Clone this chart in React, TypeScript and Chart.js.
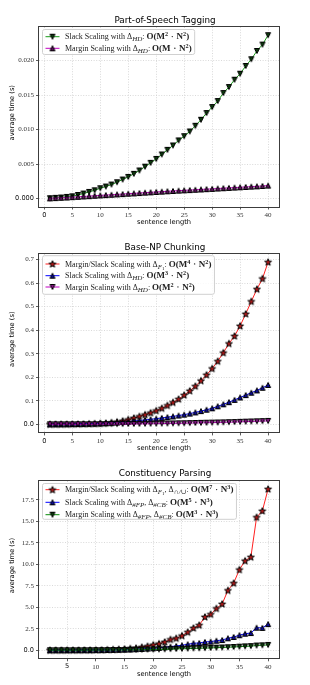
import React, { useEffect, useRef } from 'react';
import { Chart, registerables } from 'chart.js';

Chart.register(...registerables);

// ---------------- data ----------------
const posLength = [1, 2, 3, 4, 5, 6, 7, 8, 9, 10, 11, 12, 13, 14, 15, 16, 17, 18, 19, 20, 21, 22, 23, 24, 25, 26, 27, 28, 29, 30, 31, 32, 33, 34, 35, 36, 37, 38, 39, 40];
const posSlackHD = [0.00005, 0.0001, 0.00015, 0.00024, 0.00033, 0.00052, 0.00073, 0.00096, 0.0012, 0.0015, 0.00174, 0.00203, 0.00237, 0.00276, 0.00314, 0.00358, 0.00407, 0.00462, 0.00518, 0.00575, 0.00639, 0.00706, 0.0077, 0.00843, 0.00905, 0.00973, 0.01055, 0.01142, 0.0124, 0.01327, 0.01414, 0.0153, 0.01617, 0.01723, 0.0181, 0.01922, 0.0202, 0.0214, 0.02232, 0.02369];
const posMarginHD = [0.00003, 0.00007, 0.00011, 0.00015, 0.0002, 0.00025, 0.0003, 0.00035, 0.0004, 0.00046, 0.0005, 0.00055, 0.0006, 0.00065, 0.0007, 0.00075, 0.0008, 0.00085, 0.0009, 0.00095, 0.001, 0.00105, 0.0011, 0.00114, 0.00119, 0.00123, 0.00127, 0.00132, 0.00136, 0.0014, 0.00145, 0.0015, 0.00154, 0.00159, 0.00163, 0.00168, 0.00172, 0.00177, 0.00182, 0.00188];

const chunkLength = [1, 2, 3, 4, 5, 6, 7, 8, 9, 10, 11, 12, 13, 14, 15, 16, 17, 18, 19, 20, 21, 22, 23, 24, 25, 26, 27, 28, 29, 30, 31, 32, 33, 34, 35, 36, 37, 38, 39, 40];
const chunkF1 = [0.0, 0.0001, 0.0002, 0.0003, 0.0005, 0.0008, 0.0012, 0.0018, 0.0026, 0.0037, 0.0052, 0.0072, 0.0105, 0.0145, 0.02, 0.0265, 0.0335, 0.041, 0.049, 0.058, 0.068, 0.08, 0.093, 0.107, 0.124, 0.142, 0.162, 0.185, 0.21, 0.237, 0.268, 0.304, 0.343, 0.375, 0.418, 0.469, 0.522, 0.574, 0.619, 0.689];
const chunkSlackHD = [0.0001, 0.0002, 0.0004, 0.0007, 0.001, 0.0015, 0.002, 0.0026, 0.0033, 0.004, 0.0053, 0.0066, 0.008, 0.0095, 0.011, 0.0134, 0.016, 0.0186, 0.0212, 0.024, 0.027, 0.0302, 0.0336, 0.0372, 0.041, 0.0455, 0.0505, 0.056, 0.0618, 0.068, 0.0765, 0.085, 0.094, 0.1035, 0.114, 0.124, 0.134, 0.144, 0.155, 0.167];
const chunkMarginHD = [0.0, 0.0, 0.0, 0.0001, 0.0001, 0.0002, 0.0002, 0.0003, 0.0004, 0.0005, 0.0006, 0.0008, 0.0009, 0.0011, 0.0013, 0.0015, 0.0018, 0.0021, 0.0024, 0.0027, 0.003, 0.0034, 0.0038, 0.0042, 0.0046, 0.0051, 0.0056, 0.0061, 0.0066, 0.0072, 0.0078, 0.0084, 0.009, 0.0097, 0.0104, 0.0112, 0.012, 0.0128, 0.0136, 0.0145];

const parseLength = [2, 3, 4, 5, 6, 7, 8, 9, 10, 11, 12, 13, 14, 15, 16, 17, 18, 19, 20, 21, 22, 23, 24, 25, 26, 27, 28, 29, 30, 31, 32, 33, 34, 35, 36, 37, 38, 39, 40];
const parseF1 = [0.0, 0.0, 0.0, 0.01, 0.01, 0.01, 0.02, 0.02, 0.03, 0.04, 0.06, 0.08, 0.11, 0.15, 0.2, 0.26, 0.36, 0.47, 0.63, 0.76, 0.96, 1.25, 1.39, 1.69, 2.1, 2.58, 2.92, 3.87, 4.18, 4.86, 5.38, 6.96, 7.8, 9.37, 10.4, 10.83, 15.46, 16.2, 18.74];
const parseSlack = [0.0, 0.0, 0.0, 0.0, 0.01, 0.01, 0.01, 0.01, 0.02, 0.02, 0.03, 0.04, 0.05, 0.07, 0.09, 0.12, 0.15, 0.19, 0.23, 0.27, 0.35, 0.42, 0.5, 0.58, 0.69, 0.81, 0.84, 0.96, 1.0, 1.11, 1.19, 1.39, 1.54, 1.75, 1.92, 2.0, 2.62, 2.6, 3.04];
const parseMargin = [0.001, 0.001, 0.002, 0.003, 0.004, 0.006, 0.008, 0.01, 0.015, 0.02, 0.025, 0.03, 0.035, 0.04, 0.05, 0.06, 0.07, 0.08, 0.09, 0.1, 0.11, 0.13, 0.15, 0.17, 0.19, 0.21, 0.23, 0.25, 0.27, 0.3, 0.32, 0.35, 0.38, 0.42, 0.45, 0.48, 0.55, 0.58, 0.62];

const posXTicks = [0, 5, 10, 15, 20, 25, 30, 35, 40];
const posYTicks = [0, 0.005, 0.01, 0.015, 0.02];
const chunkXTicks = [0, 5, 10, 15, 20, 25, 30, 35, 40];
const chunkYTicks = [0, 0.1, 0.2, 0.3, 0.4, 0.5, 0.6, 0.7];
const parseXTicks = [5, 10, 15, 20, 25, 30, 35, 40];
const parseYTicks = [0, 2.5, 5, 7.5, 10, 12.5, 15, 17.5];

const titles = ['Part-of-Speech Tagging', 'Base-NP Chunking', 'Constituency Parsing'];
const xAxisLabel = 'sentence length';
const yAxisLabel = 'average time (s)';

type Seg = [string, string];
const posLabels: Seg[][] = [
  [['Slack Scaling with Δ', 'r'], ['HD', 'sub'], [': ', 'r'], ['O(M', 'b'], ['2', 'sup'], ['dot', 'dot'], ['N', 'b'], ['2', 'sup'], [')', 'b']],
  [['Margin Scaling with Δ', 'r'], ['HD', 'sub'], [': ', 'r'], ['O(M', 'b'], ['dot', 'dot'], ['N', 'b'], ['2', 'sup'], [')', 'b']],
];
const chunkLabels: Seg[][] = [
  [['Margin/Slack Scaling with Δ', 'r'], ['F', 'sub'], ['1', 'subsub'], [': ', 'r'], ['O(M', 'b'], ['4', 'sup'], ['dot', 'dot'], ['N', 'b'], ['2', 'sup'], [')', 'b']],
  [['Slack Scaling with Δ', 'r'], ['HD', 'sub'], [': ', 'r'], ['O(M', 'b'], ['3', 'sup'], ['dot', 'dot'], ['N', 'b'], ['2', 'sup'], [')', 'b']],
  [['Margin Scaling with Δ', 'r'], ['HD', 'sub'], [': ', 'r'], ['O(M', 'b'], ['2', 'sup'], ['dot', 'dot'], ['N', 'b'], ['2', 'sup'], [')', 'b']],
];
const parseLabels: Seg[][] = [
  [['Margin/Slack Scaling with Δ', 'r'], ['F', 'sub'], ['1', 'subsub'], [', Δ', 'r'], ['∩/∪', 'sub'], [': ', 'r'], ['O(M', 'b'], ['7', 'sup'], ['dot', 'dot'], ['N', 'b'], ['3', 'sup'], [')', 'b']],
  [['Slack Scaling with Δ', 'r'], ['#FP', 'sub'], [', Δ', 'r'], ['#CB', 'sub'], [': ', 'r'], ['O(M', 'b'], ['5', 'sup'], ['dot', 'dot'], ['N', 'b'], ['3', 'sup'], [')', 'b']],
  [['Margin Scaling with Δ', 'r'], ['#FP', 'sub'], [', Δ', 'r'], ['#CB', 'sub'], [': ', 'r'], ['O(M', 'b'], ['3', 'sup'], ['dot', 'dot'], ['N', 'b'], ['3', 'sup'], [')', 'b']],
];

// ---------------- styling ----------------
const SERIF = '"Liberation Serif", "DejaVu Serif", serif';
const SANS = '"DejaVu Sans", sans-serif';
const GREEN = '#1a9a1a';
const MAGENTA = '#c000c0';
const RED = '#ff2020';
const BLUE = '#0000ff';

interface Series { label: Seg[]; xs: number[]; ys: number[]; color: string; marker: string; fill: string; }
interface PanelCfg {
  title: string; series: Series[]; xTicks: number[]; yTicks: number[]; yDigits: number;
  top: number; height: number; areaTop: number; areaBottom: number;
  titleY: number; xLabelY: number; legendTop: number; legendBottom: number; legendRows: number[];
}

function makeMarker(shape: string, fill: string): HTMLCanvasElement {
  const c = document.createElement('canvas');
  c.width = 10; c.height = 10;
  const g = c.getContext('2d')!;
  const cx = 5, cy = 5;
  g.beginPath();
  if (shape === 'up') {
    const s = 2.5;
    g.moveTo(cx, cy - s); g.lineTo(cx + s, cy + s); g.lineTo(cx - s, cy + s);
  } else if (shape === 'down') {
    const s = 2.5;
    g.moveTo(cx, cy + s); g.lineTo(cx + s, cy - s); g.lineTo(cx - s, cy - s);
  } else {
    for (let k = 0; k < 10; k++) {
      const r = k % 2 ? 1.5 : 3.6;
      const a = -Math.PI / 2 + (k * Math.PI) / 5;
      const px = cx + r * Math.cos(a), py = cy + 0.3 + r * Math.sin(a);
      if (k === 0) g.moveTo(px, py); else g.lineTo(px, py);
    }
  }
  g.closePath();
  g.fillStyle = fill; g.fill();
  g.lineWidth = 1; g.strokeStyle = '#000'; g.stroke();
  return c;
}

function segFont(kind: string): string {
  switch (kind) {
    case 'sub': return `italic 7px ${SERIF}`;
    case 'subsub': return `5px ${SERIF}`;
    case 'b': case 'dot': return `bold 9px ${SERIF}`;
    case 'sup': return `bold 6.2px ${SERIF}`;
    default: return `8px ${SERIF}`;
  }
}
function segOffset(kind: string): number {
  switch (kind) {
    case 'sub': return 1.9;
    case 'subsub': return 3.1;
    case 'sup': return -3.1;
    default: return 0;
  }
}
function segWidth(ctx: CanvasRenderingContext2D, t: string, k: string): number {
  ctx.font = segFont(k);
  if (k === 'dot') return 8.5;
  return ctx.measureText(t).width;
}
function richWidth(ctx: CanvasRenderingContext2D, segs: Seg[]): number {
  let w = 0;
  for (const [t, k] of segs) w += segWidth(ctx, t, k);
  return w;
}
function drawRich(ctx: CanvasRenderingContext2D, segs: Seg[], x: number, y: number) {
  let cx = x;
  ctx.textBaseline = 'alphabetic';
  ctx.textAlign = 'left';
  for (const [t, k] of segs) {
    const w = segWidth(ctx, t, k);
    if (k === 'dot') {
      ctx.beginPath();
      ctx.arc(cx + w / 2, y - 2.7, 0.7, 0, Math.PI * 2);
      ctx.fill();
    } else {
      ctx.fillText(t, cx, y + segOffset(k));
    }
    cx += w;
  }
}

function Panel({ cfg }: { cfg: PanelCfg }) {
  const ref = useRef<HTMLCanvasElement>(null);
  useEffect(() => {
    const markers = cfg.series.map((s) => makeMarker(s.marker, s.fill));
    const allX = cfg.series.flatMap((s) => s.xs);
    const allY = cfg.series.flatMap((s) => s.ys);
    const xMinD = Math.min(...allX), xMaxD = Math.max(...allX);
    const yMinD = Math.min(...allY), yMaxD = Math.max(...allY);
    const xm = (xMaxD - xMinD) * 0.05, ym = (yMaxD - yMinD) * 0.05;
    const H = cfg.height;

    const decor = {
      id: 'decor',
      afterDatasetsDraw(chart: any) {
        const { ctx, chartArea: a } = chart;
        ctx.save();
        ctx.strokeStyle = '#3c3c3c';
        ctx.lineWidth = 1;
        const l = Math.round(a.left) - 0.5, t = Math.round(a.top) - 0.5;
        const r = Math.round(a.right) + 0.5, b = Math.round(a.bottom) + 0.5;
        ctx.strokeRect(l, t, r - l, b - t);
        ctx.restore();
      },
      afterDraw(chart: any) {
        const { ctx, chartArea: a } = chart;
        ctx.save();
        // legend
        const boxLeft = Math.round(a.left) + 3.5;
        const textX = boxLeft + 22.5;
        let maxW = 0;
        cfg.series.forEach((s) => { maxW = Math.max(maxW, richWidth(ctx, s.label)); });
        const boxW = textX - boxLeft + maxW + 3;
        const boxT = cfg.legendTop, boxH = cfg.legendBottom - cfg.legendTop;
        ctx.beginPath();
        (ctx as any).roundRect(boxLeft, boxT, boxW, boxH, 2);
        ctx.fillStyle = 'rgba(255,255,255,0.85)';
        ctx.fill();
        ctx.strokeStyle = '#d0d0d0';
        ctx.lineWidth = 1;
        ctx.stroke();
        cfg.series.forEach((s, i) => {
          const ry = cfg.legendRows[i];
          ctx.strokeStyle = s.color;
          ctx.lineWidth = 1;
          ctx.beginPath();
          ctx.moveTo(boxLeft + 3, ry);
          ctx.lineTo(boxLeft + 17, ry);
          ctx.stroke();
          const m = markers[i];
          ctx.drawImage(m, boxLeft + 10 - m.width / 2, ry - m.height / 2);
          ctx.fillStyle = '#222';
          drawRich(ctx, s.label, textX, ry + 2.6);
        });
        // title
        ctx.fillStyle = '#000';
        ctx.textAlign = 'center';
        ctx.textBaseline = 'middle';
        ctx.font = `8.8px ${SANS}`;
        ctx.fillText(cfg.title, 165, cfg.titleY);
        // x axis label
        ctx.font = `6.7px ${SANS}`;
        ctx.fillText(xAxisLabel, 164, cfg.xLabelY);
        // y axis label
        ctx.translate(12.5, (a.top + a.bottom) / 2 - 4);
        ctx.rotate(-Math.PI / 2);
        ctx.fillText(yAxisLabel, 0, 0);
        ctx.restore();
      },
    };

    const tickFont = (c: any) =>
      c.index === 0
        ? { family: SANS, size: 6.6 }
        : { family: SERIF, size: 7 };
    const tickColor = (c: any) => (c.index === 0 ? '#111' : '#333');

    const gridOpts = {
      color: '#cfcfcf',
      lineWidth: 0.8,
      drawTicks: true,
      tickLength: 3,
      tickColor: '#333',
      tickWidth: 0.8,
      tickBorderDash: [],
    };

    const chart = new Chart(ref.current!, {
      type: 'line',
      data: {
        datasets: cfg.series.map((s, i) => ({
          label: 'series' + i,
          data: s.xs.map((x, j) => ({ x, y: s.ys[j] })),
          borderColor: s.color,
          backgroundColor: s.color,
          borderWidth: 1,
          pointStyle: markers[i] as any,
          pointRadius: 3,
          fill: false,
          tension: 0,
          order: -i,
        })),
      },
      options: {
        responsive: false,
        animation: false,
        events: [],
        layout: { padding: { top: cfg.areaTop, right: 31, left: 0, bottom: 0 } },
        plugins: { legend: { display: false }, title: { display: false }, tooltip: { enabled: false } },
        scales: {
          x: {
            type: 'linear',
            min: xMinD - xm,
            max: xMaxD + xm,
            afterBuildTicks: (sc: any) => { sc.ticks = cfg.xTicks.map((v) => ({ value: v })); },
            afterFit: (sc: any) => { sc.height = H - cfg.areaBottom; },
            ticks: {
              autoSkip: false, maxRotation: 0, minRotation: 0, padding: 1.5,
              callback: (v: any) => String(v),
              font: tickFont as any, color: tickColor as any,
            },
            grid: gridOpts as any,
            border: { display: false, dash: [1, 1.6] },
          },
          y: {
            type: 'linear',
            min: yMinD - ym,
            max: yMaxD + ym,
            afterBuildTicks: (sc: any) => { sc.ticks = cfg.yTicks.map((v) => ({ value: v })); },
            afterFit: (sc: any) => { sc.width = 39; },
            ticks: {
              autoSkip: false, padding: 2,
              callback: (v: any) => Number(v).toFixed(cfg.yDigits),
              font: tickFont as any, color: tickColor as any,
            },
            grid: gridOpts as any,
            border: { display: false, dash: [1, 1.6] },
          },
        },
      },
      plugins: [decor],
    });
    return () => chart.destroy();
  }, []);
  return (
    <canvas
      ref={ref}
      width={310}
      height={cfg.height}
      style={{ position: 'absolute', left: 0, top: cfg.top, width: 310, height: cfg.height }}
    />
  );
}

const panels: PanelCfg[] = [
  {
    title: titles[0],
    series: [
      { label: posLabels[0], xs: posLength, ys: posSlackHD, color: GREEN, marker: 'down', fill: '#0c3a0c' },
      { label: posLabels[1], xs: posLength, ys: posMarginHD, color: MAGENTA, marker: 'up', fill: '#5a105a' },
    ],
    xTicks: posXTicks, yTicks: posYTicks, yDigits: 3,
    top: 0, height: 228, areaTop: 27, areaBottom: 206.5,
    titleY: 20.7, xLabelY: 222, legendTop: 29.5, legendBottom: 54.5, legendRows: [36.7, 48.3],
  },
  {
    title: titles[1],
    series: [
      { label: chunkLabels[0], xs: chunkLength, ys: chunkF1, color: RED, marker: 'star', fill: '#b01818' },
      { label: chunkLabels[1], xs: chunkLength, ys: chunkSlackHD, color: BLUE, marker: 'up', fill: '#0a0a90' },
      { label: chunkLabels[2], xs: chunkLength, ys: chunkMarginHD, color: MAGENTA, marker: 'down', fill: '#801080' },
    ],
    xTicks: chunkXTicks, yTicks: chunkYTicks, yDigits: 1,
    top: 228, height: 228, areaTop: 26, areaBottom: 204.4,
    titleY: 19.7, xLabelY: 220.7, legendTop: 27.7, legendBottom: 66.3, legendRows: [36, 47.7, 59],
  },
  {
    title: titles[2],
    series: [
      { label: parseLabels[0], xs: parseLength, ys: parseF1, color: RED, marker: 'star', fill: '#b01818' },
      { label: parseLabels[1], xs: parseLength, ys: parseSlack, color: BLUE, marker: 'up', fill: '#0a0a90' },
      { label: parseLabels[2], xs: parseLength, ys: parseMargin, color: '#0a8a0a', marker: 'down', fill: '#0c3a0c' },
    ],
    xTicks: parseXTicks, yTicks: parseYTicks, yDigits: 1,
    top: 456, height: 229, areaTop: 25, areaBottom: 202.3,
    titleY: 18, xLabelY: 218.7, legendTop: 27.5, legendBottom: 63.3, legendRows: [33.7, 46.3, 58.7],
  },
];

export default function App() {
  return (
    <div style={{ position: 'absolute', left: 0, top: 0, width: 310, height: 685, background: '#fff' }}>
      {panels.map((p, i) => (
        <Panel key={i} cfg={p} />
      ))}
    </div>
  );
}
